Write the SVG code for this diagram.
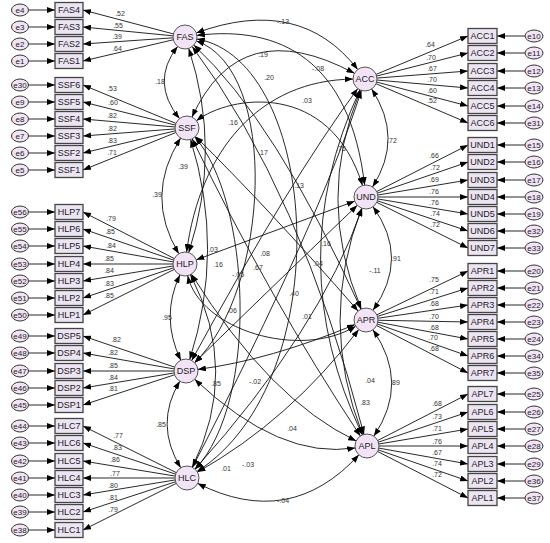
<svg xmlns="http://www.w3.org/2000/svg" width="550" height="543" viewBox="0 0 550 543">
<style>
text{font-family:"Liberation Sans",Arial,sans-serif;fill:#222}
.n{font-size:9px;text-anchor:middle;dominant-baseline:central}
.e{font-size:8px;text-anchor:middle;dominant-baseline:central}
.v{font-size:7px;text-anchor:middle;dominant-baseline:central;fill:#333}
.ind rect{fill:#ECE4F3;stroke:#444;stroke-width:1.3}
.lat circle{fill:#F2E4F6;stroke:#555;stroke-width:1}
.err ellipse{fill:#F2E4F6;stroke:#333;stroke-width:1}
.ld path{fill:none;stroke:#111;stroke-width:0.9;marker-end:url(#ah)}
.cv path{fill:none;stroke:#111;stroke-width:0.9;marker-start:url(#ah);marker-end:url(#ah)}
</style>
<defs>
<marker id="ah" markerUnits="userSpaceOnUse" markerWidth="8" markerHeight="6" refX="8" refY="3" orient="auto-start-reverse" viewBox="0 0 8 6"><path d="M0,0L8,3L0,6z" fill="#000"/></marker>
</defs>
<rect width="550" height="543" fill="#fff"/>
<g id="connectors">
<g class="ld">
<path d="M185,37L83,10"/><path d="M185,37L83,27"/><path d="M185,37L83,44"/><path d="M185,37L83,61"/>
<path d="M187,128L83,85"/><path d="M187,128L83,102"/><path d="M187,128L83,119"/><path d="M187,128L83,136"/><path d="M187,128L83,153"/><path d="M187,128L83,170"/>
<path d="M185,264L83,212"/><path d="M185,264L83,229"/><path d="M185,264L83,246"/><path d="M185,264L83,264"/><path d="M185,264L83,281"/><path d="M185,264L83,298"/><path d="M185,264L83,315"/>
<path d="M186,371L83,336"/><path d="M186,371L83,353"/><path d="M186,371L83,371"/><path d="M186,371L83,388"/><path d="M186,371L83,405"/>
<path d="M187,478L83,426"/><path d="M187,478L83,443"/><path d="M187,478L83,461"/><path d="M187,478L83,478"/><path d="M187,478L83,495"/><path d="M187,478L83,512"/><path d="M187,478L83,530"/>
<path d="M365,79L468,36"/><path d="M365,79L468,53"/><path d="M365,79L468,71"/><path d="M365,79L468,88"/><path d="M365,79L468,106"/><path d="M365,79L468,123"/>
<path d="M366,197L468,145"/><path d="M366,197L468,162"/><path d="M366,197L468,180"/><path d="M366,197L468,197"/><path d="M366,197L468,214"/><path d="M366,197L468,231"/><path d="M366,197L468,248"/>
<path d="M366,320L468,271"/><path d="M366,320L468,288"/><path d="M366,320L468,305"/><path d="M366,320L468,322"/><path d="M366,320L468,339"/><path d="M366,320L468,356"/><path d="M366,320L468,373"/>
<path d="M367,446L468,394"/><path d="M367,446L468,412"/><path d="M367,446L468,429"/><path d="M367,446L468,446"/><path d="M367,446L468,464"/><path d="M367,446L468,481"/><path d="M367,446L468,498"/>
<path d="M28.5,10H55"/><path d="M28.5,27H55"/><path d="M28.5,44H55"/><path d="M28.5,61H55"/>
<path d="M28.5,85H55"/><path d="M28.5,102H55"/><path d="M28.5,119H55"/><path d="M28.5,136H55"/><path d="M28.5,153H55"/><path d="M28.5,170H55"/>
<path d="M28.5,212H55"/><path d="M28.5,229H55"/><path d="M28.5,246H55"/><path d="M28.5,264H55"/><path d="M28.5,281H55"/><path d="M28.5,298H55"/><path d="M28.5,315H55"/>
<path d="M28.5,336H55"/><path d="M28.5,353H55"/><path d="M28.5,371H55"/><path d="M28.5,388H55"/><path d="M28.5,405H55"/>
<path d="M28.5,426H55"/><path d="M28.5,443H55"/><path d="M28.5,461H55"/><path d="M28.5,478H55"/><path d="M28.5,495H55"/><path d="M28.5,512H55"/><path d="M28.5,530H55"/>
<path d="M525,36H497"/><path d="M525,53H497"/><path d="M525,71H497"/><path d="M525,88H497"/><path d="M525,106H497"/><path d="M525,123H497"/>
<path d="M525,145H497"/><path d="M525,162H497"/><path d="M525,180H497"/><path d="M525,197H497"/><path d="M525,214H497"/><path d="M525,231H497"/><path d="M525,248H497"/>
<path d="M525,271H497"/><path d="M525,288H497"/><path d="M525,305H497"/><path d="M525,322H497"/><path d="M525,339H497"/><path d="M525,356H497"/><path d="M525,373H497"/>
<path d="M525,394H497"/><path d="M525,412H497"/><path d="M525,429H497"/><path d="M525,446H497"/><path d="M525,464H497"/><path d="M525,481H497"/><path d="M525,498H497"/>
</g>
<g class="cv">
<path d="M177.6,46.5Q150,82 179.5,118.6"/>
<path d="M180.6,138.1Q144,196 178.8,253.7"/>
<path d="M179.9,274.9Q160,317 180.8,360.2"/>
<path d="M179.8,381.3Q154,424 180.7,467.8"/>
<path d="M371.6,89Q404,138 372.5,186.9"/>
<path d="M373,206.7Q410,258 373,310.2"/>
<path d="M372.9,329.8Q410,383 373.8,436.1"/>
<path d="M196.3,32.9Q300,-5 357.7,69.5"/>
<path d="M197.7,483.4Q290,530 358.9,454.8"/>
<path d="M192,117.1Q240,12 354.4,73.3"/>
<path d="M196.3,259.8L354.7,201.2"/>
<path d="M187.7,275.7C200,330 300,360 355.7,326.2"/>
<path d="M188.7,48.4Q222,150 188.7,252.6"/>
<path d="M196.3,40.9C280,70 270,290 194.6,362.7"/>
<path d="M196.8,39C320,60 340,380 197.1,471.5"/>
<path d="M190.6,139.5Q225,250 189.7,359.6"/>
<path d="M194.9,137C250,200 260,400 195.2,469.2"/>
<path d="M190.5,274.7Q240,371 192.3,467.2"/>
<path d="M360.4,90.1Q315,200 361.3,309"/>
<path d="M361.7,208.2Q318,321 362.6,434.8"/>
<path d="M359.9,89.9Q280,262 362.4,434.9"/>
<path d="M196.9,35.4C280,25 350,60 364.6,185.1"/>
<path d="M193.8,45.1Q275,120 361,309.1"/>
<path d="M192.2,46.6Q300,190 364,434.4"/>
<path d="M196.5,120.7C230,95 330,80 362.5,185.5"/>
<path d="M195.5,136.4Q270,210 358.1,311"/>
<path d="M192.2,138.8Q270,300 360.4,436"/>
<path d="M186.6,252.1C200,150 260,80 353,79.1"/>
<path d="M191.4,274.2Q270,400 356.2,440.9"/>
<path d="M191.7,360.5Q290,180 357.8,88.6"/>
<path d="M194.6,362.6Q300,260 357.3,205.3"/>
<path d="M197.9,369.4Q270,360 354.9,324.6"/>
<path d="M194.7,379.3Q280,460 355.2,447.9"/>
<path d="M192.5,467.3Q320,220 361.4,90.4"/>
<path d="M195,469.1Q320,330 362.1,208.3"/>
<path d="M197.5,472.1Q290,420 358.7,329.6"/>
</g>
<g id="loading-values">
<text class="v" x="120" y="13">.52</text><text class="v" x="118" y="25">.55</text><text class="v" x="117" y="36">.39</text><text class="v" x="117" y="48">.64</text>
<text class="v" x="112" y="88">.53</text><text class="v" x="113" y="102">.60</text><text class="v" x="112" y="115">.82</text><text class="v" x="112" y="128">.82</text><text class="v" x="112" y="140">.83</text><text class="v" x="112" y="152">.71</text>
<text class="v" x="111" y="218">.79</text><text class="v" x="110" y="231">.85</text><text class="v" x="111" y="245">.84</text><text class="v" x="109" y="258">.85</text><text class="v" x="109" y="270">.84</text><text class="v" x="109" y="283">.83</text><text class="v" x="109" y="295">.85</text>
<text class="v" x="116" y="339">.82</text><text class="v" x="113" y="352">.82</text><text class="v" x="113" y="365">.85</text><text class="v" x="113" y="377">.84</text><text class="v" x="113" y="388">.81</text>
<text class="v" x="118" y="435">.77</text><text class="v" x="117" y="447">.83</text><text class="v" x="115" y="459">.86</text><text class="v" x="115" y="473">.77</text><text class="v" x="113" y="485">.80</text><text class="v" x="113" y="497">.81</text><text class="v" x="113" y="509">.79</text>
<text class="v" x="430" y="44">.64</text><text class="v" x="431" y="57">.70</text><text class="v" x="432" y="68">.67</text><text class="v" x="432" y="79">.70</text><text class="v" x="432" y="90">.60</text><text class="v" x="432" y="100">.52</text>
<text class="v" x="434" y="155">.66</text><text class="v" x="435" y="167">.72</text><text class="v" x="434" y="179">.69</text><text class="v" x="434" y="191">.76</text><text class="v" x="434" y="202">.76</text><text class="v" x="435" y="213">.74</text><text class="v" x="435" y="224">.72</text>
<text class="v" x="434" y="279">.75</text><text class="v" x="434" y="291">.71</text><text class="v" x="434" y="303">.68</text><text class="v" x="434" y="316">.70</text><text class="v" x="434" y="327">.68</text><text class="v" x="433" y="337">.70</text><text class="v" x="434" y="348">.68</text>
<text class="v" x="437" y="403">.68</text><text class="v" x="437" y="416">.73</text><text class="v" x="437" y="428">.71</text><text class="v" x="437" y="441">.76</text><text class="v" x="437" y="452">.67</text><text class="v" x="437" y="463">.74</text><text class="v" x="437" y="474">.72</text>
</g>
<g id="correlation-values">
<text class="v" x="160" y="81">.18</text><text class="v" x="283" y="21">-.13</text><text class="v" x="263" y="54">.19</text><text class="v" x="318" y="68">-.08</text>
<text class="v" x="269" y="77">.20</text><text class="v" x="307" y="100">.03</text><text class="v" x="233" y="122">.16</text><text class="v" x="263" y="152">.17</text>
<text class="v" x="341" y="148">.75</text><text class="v" x="299" y="185">.13</text><text class="v" x="183" y="166">.39</text><text class="v" x="157" y="194">.39</text>
<text class="v" x="213" y="249">.03</text><text class="v" x="218" y="264">.16</text><text class="v" x="238" y="274">-.05</text><text class="v" x="258" y="267">.67</text>
<text class="v" x="265" y="253">.08</text><text class="v" x="326" y="243">.16</text><text class="v" x="318" y="263">.04</text><text class="v" x="392" y="140">.72</text>
<text class="v" x="396" y="258">.91</text><text class="v" x="375" y="270">-.11</text><text class="v" x="167" y="317">.95</text><text class="v" x="232" y="310">.06</text>
<text class="v" x="294" y="293">.40</text><text class="v" x="307" y="316">.01</text><text class="v" x="216" y="383">.85</text><text class="v" x="255" y="381">-.02</text>
<text class="v" x="161" y="424">.85</text><text class="v" x="292" y="428">.04</text><text class="v" x="226" y="468">.01</text><text class="v" x="248" y="464">-.03</text>
<text class="v" x="283" y="500">-.04</text><text class="v" x="370" y="380">.04</text><text class="v" x="395" y="382">.89</text><text class="v" x="365" y="402">.83</text>
</g>
</g>
<g class="lat">
<g id="FAS"><circle cx="185" cy="37" r="12"/><text class="n" x="185" y="37">FAS</text></g>
<g id="SSF"><circle cx="187" cy="128" r="12"/><text class="n" x="187" y="128">SSF</text></g>
<g id="HLP"><circle cx="185" cy="264" r="12"/><text class="n" x="185" y="264">HLP</text></g>
<g id="DSP"><circle cx="186" cy="371" r="12"/><text class="n" x="186" y="371">DSP</text></g>
<g id="HLC"><circle cx="187" cy="478" r="12"/><text class="n" x="187" y="478">HLC</text></g>
<g id="ACC"><circle cx="365" cy="79" r="12"/><text class="n" x="365" y="79">ACC</text></g>
<g id="UND"><circle cx="366" cy="197" r="12"/><text class="n" x="366" y="197">UND</text></g>
<g id="APR"><circle cx="366" cy="320" r="12"/><text class="n" x="366" y="320">APR</text></g>
<g id="APL"><circle cx="367" cy="446" r="12"/><text class="n" x="367" y="446">APL</text></g>
</g>
<g class="ind">
<g id="FAS4"><rect x="55" y="2.5" width="28" height="15"/><text class="n" x="69" y="10">FAS4</text></g>
<g id="FAS3"><rect x="55" y="19.5" width="28" height="15"/><text class="n" x="69" y="27">FAS3</text></g>
<g id="FAS2"><rect x="55" y="36.5" width="28" height="15"/><text class="n" x="69" y="44">FAS2</text></g>
<g id="FAS1"><rect x="55" y="53.5" width="28" height="15"/><text class="n" x="69" y="61">FAS1</text></g>
<g id="SSF6"><rect x="55" y="77.5" width="28" height="15"/><text class="n" x="69" y="85">SSF6</text></g>
<g id="SSF5"><rect x="55" y="94.5" width="28" height="15"/><text class="n" x="69" y="102">SSF5</text></g>
<g id="SSF4"><rect x="55" y="111.5" width="28" height="15"/><text class="n" x="69" y="119">SSF4</text></g>
<g id="SSF3"><rect x="55" y="128.5" width="28" height="15"/><text class="n" x="69" y="136">SSF3</text></g>
<g id="SSF2"><rect x="55" y="145.5" width="28" height="15"/><text class="n" x="69" y="153">SSF2</text></g>
<g id="SSF1"><rect x="55" y="162.5" width="28" height="15"/><text class="n" x="69" y="170">SSF1</text></g>
<g id="HLP7"><rect x="55" y="204.5" width="28" height="15"/><text class="n" x="69" y="212">HLP7</text></g>
<g id="HLP6"><rect x="55" y="221.5" width="28" height="15"/><text class="n" x="69" y="229">HLP6</text></g>
<g id="HLP5"><rect x="55" y="238.5" width="28" height="15"/><text class="n" x="69" y="246">HLP5</text></g>
<g id="HLP4"><rect x="55" y="256.5" width="28" height="15"/><text class="n" x="69" y="264">HLP4</text></g>
<g id="HLP3"><rect x="55" y="273.5" width="28" height="15"/><text class="n" x="69" y="281">HLP3</text></g>
<g id="HLP2"><rect x="55" y="290.5" width="28" height="15"/><text class="n" x="69" y="298">HLP2</text></g>
<g id="HLP1"><rect x="55" y="307.5" width="28" height="15"/><text class="n" x="69" y="315">HLP1</text></g>
<g id="DSP5"><rect x="55" y="328.5" width="28" height="15"/><text class="n" x="69" y="336">DSP5</text></g>
<g id="DSP4"><rect x="55" y="345.5" width="28" height="15"/><text class="n" x="69" y="353">DSP4</text></g>
<g id="DSP3"><rect x="55" y="363.5" width="28" height="15"/><text class="n" x="69" y="371">DSP3</text></g>
<g id="DSP2"><rect x="55" y="380.5" width="28" height="15"/><text class="n" x="69" y="388">DSP2</text></g>
<g id="DSP1"><rect x="55" y="397.5" width="28" height="15"/><text class="n" x="69" y="405">DSP1</text></g>
<g id="HLC7"><rect x="55" y="418.5" width="28" height="15"/><text class="n" x="69" y="426">HLC7</text></g>
<g id="HLC6"><rect x="55" y="435.5" width="28" height="15"/><text class="n" x="69" y="443">HLC6</text></g>
<g id="HLC5"><rect x="55" y="453.5" width="28" height="15"/><text class="n" x="69" y="461">HLC5</text></g>
<g id="HLC4"><rect x="55" y="470.5" width="28" height="15"/><text class="n" x="69" y="478">HLC4</text></g>
<g id="HLC3"><rect x="55" y="487.5" width="28" height="15"/><text class="n" x="69" y="495">HLC3</text></g>
<g id="HLC2"><rect x="55" y="504.5" width="28" height="15"/><text class="n" x="69" y="512">HLC2</text></g>
<g id="HLC1"><rect x="55" y="522.5" width="28" height="15"/><text class="n" x="69" y="530">HLC1</text></g>
<g id="ACC1"><rect x="468" y="28.5" width="29" height="15"/><text class="n" x="482.5" y="36">ACC1</text></g>
<g id="ACC2"><rect x="468" y="45.5" width="29" height="15"/><text class="n" x="482.5" y="53">ACC2</text></g>
<g id="ACC3"><rect x="468" y="63.5" width="29" height="15"/><text class="n" x="482.5" y="71">ACC3</text></g>
<g id="ACC4"><rect x="468" y="80.5" width="29" height="15"/><text class="n" x="482.5" y="88">ACC4</text></g>
<g id="ACC5"><rect x="468" y="98.5" width="29" height="15"/><text class="n" x="482.5" y="106">ACC5</text></g>
<g id="ACC6"><rect x="468" y="115.5" width="29" height="15"/><text class="n" x="482.5" y="123">ACC6</text></g>
<g id="UND1"><rect x="468" y="137.5" width="29" height="15"/><text class="n" x="482.5" y="145">UND1</text></g>
<g id="UND2"><rect x="468" y="154.5" width="29" height="15"/><text class="n" x="482.5" y="162">UND2</text></g>
<g id="UND3"><rect x="468" y="172.5" width="29" height="15"/><text class="n" x="482.5" y="180">UND3</text></g>
<g id="UND4"><rect x="468" y="189.5" width="29" height="15"/><text class="n" x="482.5" y="197">UND4</text></g>
<g id="UND5"><rect x="468" y="206.5" width="29" height="15"/><text class="n" x="482.5" y="214">UND5</text></g>
<g id="UND6"><rect x="468" y="223.5" width="29" height="15"/><text class="n" x="482.5" y="231">UND6</text></g>
<g id="UND7"><rect x="468" y="240.5" width="29" height="15"/><text class="n" x="482.5" y="248">UND7</text></g>
<g id="APR1"><rect x="468" y="263.5" width="29" height="15"/><text class="n" x="482.5" y="271">APR1</text></g>
<g id="APR2"><rect x="468" y="280.5" width="29" height="15"/><text class="n" x="482.5" y="288">APR2</text></g>
<g id="APR3"><rect x="468" y="297.5" width="29" height="15"/><text class="n" x="482.5" y="305">APR3</text></g>
<g id="APR4"><rect x="468" y="314.5" width="29" height="15"/><text class="n" x="482.5" y="322">APR4</text></g>
<g id="APR5"><rect x="468" y="331.5" width="29" height="15"/><text class="n" x="482.5" y="339">APR5</text></g>
<g id="APR6"><rect x="468" y="348.5" width="29" height="15"/><text class="n" x="482.5" y="356">APR6</text></g>
<g id="APR7"><rect x="468" y="365.5" width="29" height="15"/><text class="n" x="482.5" y="373">APR7</text></g>
<g id="APL7"><rect x="468" y="386.5" width="29" height="15"/><text class="n" x="482.5" y="394">APL7</text></g>
<g id="APL6"><rect x="468" y="404.5" width="29" height="15"/><text class="n" x="482.5" y="412">APL6</text></g>
<g id="APL5"><rect x="468" y="421.5" width="29" height="15"/><text class="n" x="482.5" y="429">APL5</text></g>
<g id="APL4"><rect x="468" y="438.5" width="29" height="15"/><text class="n" x="482.5" y="446">APL4</text></g>
<g id="APL3"><rect x="468" y="456.5" width="29" height="15"/><text class="n" x="482.5" y="464">APL3</text></g>
<g id="APL2"><rect x="468" y="473.5" width="29" height="15"/><text class="n" x="482.5" y="481">APL2</text></g>
<g id="APL1"><rect x="468" y="490.5" width="29" height="15"/><text class="n" x="482.5" y="498">APL1</text></g>
</g>
<g class="err">
<g id="e4"><ellipse cx="20" cy="10" rx="8.5" ry="6"/><text class="e" x="20" y="10">e4</text></g>
<g id="e3"><ellipse cx="20" cy="27" rx="8.5" ry="6"/><text class="e" x="20" y="27">e3</text></g>
<g id="e2"><ellipse cx="20" cy="44" rx="8.5" ry="6"/><text class="e" x="20" y="44">e2</text></g>
<g id="e1"><ellipse cx="20" cy="61" rx="8.5" ry="6"/><text class="e" x="20" y="61">e1</text></g>
<g id="e30"><ellipse cx="20" cy="85" rx="8.5" ry="6"/><text class="e" x="20" y="85">e30</text></g>
<g id="e9"><ellipse cx="20" cy="102" rx="8.5" ry="6"/><text class="e" x="20" y="102">e9</text></g>
<g id="e8"><ellipse cx="20" cy="119" rx="8.5" ry="6"/><text class="e" x="20" y="119">e8</text></g>
<g id="e7"><ellipse cx="20" cy="136" rx="8.5" ry="6"/><text class="e" x="20" y="136">e7</text></g>
<g id="e6"><ellipse cx="20" cy="153" rx="8.5" ry="6"/><text class="e" x="20" y="153">e6</text></g>
<g id="e5"><ellipse cx="20" cy="170" rx="8.5" ry="6"/><text class="e" x="20" y="170">e5</text></g>
<g id="e56"><ellipse cx="20" cy="212" rx="8.5" ry="6"/><text class="e" x="20" y="212">e56</text></g>
<g id="e55"><ellipse cx="20" cy="229" rx="8.5" ry="6"/><text class="e" x="20" y="229">e55</text></g>
<g id="e54"><ellipse cx="20" cy="246" rx="8.5" ry="6"/><text class="e" x="20" y="246">e54</text></g>
<g id="e53"><ellipse cx="20" cy="264" rx="8.5" ry="6"/><text class="e" x="20" y="264">e53</text></g>
<g id="e52"><ellipse cx="20" cy="281" rx="8.5" ry="6"/><text class="e" x="20" y="281">e52</text></g>
<g id="e51"><ellipse cx="20" cy="298" rx="8.5" ry="6"/><text class="e" x="20" y="298">e51</text></g>
<g id="e50"><ellipse cx="20" cy="315" rx="8.5" ry="6"/><text class="e" x="20" y="315">e50</text></g>
<g id="e49"><ellipse cx="20" cy="336" rx="8.5" ry="6"/><text class="e" x="20" y="336">e49</text></g>
<g id="e48"><ellipse cx="20" cy="353" rx="8.5" ry="6"/><text class="e" x="20" y="353">e48</text></g>
<g id="e47"><ellipse cx="20" cy="371" rx="8.5" ry="6"/><text class="e" x="20" y="371">e47</text></g>
<g id="e46"><ellipse cx="20" cy="388" rx="8.5" ry="6"/><text class="e" x="20" y="388">e46</text></g>
<g id="e45"><ellipse cx="20" cy="405" rx="8.5" ry="6"/><text class="e" x="20" y="405">e45</text></g>
<g id="e44"><ellipse cx="20" cy="426" rx="8.5" ry="6"/><text class="e" x="20" y="426">e44</text></g>
<g id="e43"><ellipse cx="20" cy="443" rx="8.5" ry="6"/><text class="e" x="20" y="443">e43</text></g>
<g id="e42"><ellipse cx="20" cy="461" rx="8.5" ry="6"/><text class="e" x="20" y="461">e42</text></g>
<g id="e41"><ellipse cx="20" cy="478" rx="8.5" ry="6"/><text class="e" x="20" y="478">e41</text></g>
<g id="e40"><ellipse cx="20" cy="495" rx="8.5" ry="6"/><text class="e" x="20" y="495">e40</text></g>
<g id="e39"><ellipse cx="20" cy="512" rx="8.5" ry="6"/><text class="e" x="20" y="512">e39</text></g>
<g id="e38"><ellipse cx="20" cy="530" rx="8.5" ry="6"/><text class="e" x="20" y="530">e38</text></g>
<g id="e10"><ellipse cx="534" cy="36" rx="9" ry="6"/><text class="e" x="534" y="36">e10</text></g>
<g id="e11"><ellipse cx="534" cy="53" rx="9" ry="6"/><text class="e" x="534" y="53">e11</text></g>
<g id="e12"><ellipse cx="534" cy="71" rx="9" ry="6"/><text class="e" x="534" y="71">e12</text></g>
<g id="e13"><ellipse cx="534" cy="88" rx="9" ry="6"/><text class="e" x="534" y="88">e13</text></g>
<g id="e14"><ellipse cx="534" cy="106" rx="9" ry="6"/><text class="e" x="534" y="106">e14</text></g>
<g id="e31"><ellipse cx="534" cy="123" rx="9" ry="6"/><text class="e" x="534" y="123">e31</text></g>
<g id="e15"><ellipse cx="534" cy="145" rx="9" ry="6"/><text class="e" x="534" y="145">e15</text></g>
<g id="e16"><ellipse cx="534" cy="162" rx="9" ry="6"/><text class="e" x="534" y="162">e16</text></g>
<g id="e17"><ellipse cx="534" cy="180" rx="9" ry="6"/><text class="e" x="534" y="180">e17</text></g>
<g id="e18"><ellipse cx="534" cy="197" rx="9" ry="6"/><text class="e" x="534" y="197">e18</text></g>
<g id="e19"><ellipse cx="534" cy="214" rx="9" ry="6"/><text class="e" x="534" y="214">e19</text></g>
<g id="e32"><ellipse cx="534" cy="231" rx="9" ry="6"/><text class="e" x="534" y="231">e32</text></g>
<g id="e33"><ellipse cx="534" cy="248" rx="9" ry="6"/><text class="e" x="534" y="248">e33</text></g>
<g id="e20"><ellipse cx="534" cy="271" rx="9" ry="6"/><text class="e" x="534" y="271">e20</text></g>
<g id="e21"><ellipse cx="534" cy="288" rx="9" ry="6"/><text class="e" x="534" y="288">e21</text></g>
<g id="e22"><ellipse cx="534" cy="305" rx="9" ry="6"/><text class="e" x="534" y="305">e22</text></g>
<g id="e23"><ellipse cx="534" cy="322" rx="9" ry="6"/><text class="e" x="534" y="322">e23</text></g>
<g id="e24"><ellipse cx="534" cy="339" rx="9" ry="6"/><text class="e" x="534" y="339">e24</text></g>
<g id="e34"><ellipse cx="534" cy="356" rx="9" ry="6"/><text class="e" x="534" y="356">e34</text></g>
<g id="e35"><ellipse cx="534" cy="373" rx="9" ry="6"/><text class="e" x="534" y="373">e35</text></g>
<g id="e25"><ellipse cx="534" cy="394" rx="9" ry="6"/><text class="e" x="534" y="394">e25</text></g>
<g id="e26"><ellipse cx="534" cy="412" rx="9" ry="6"/><text class="e" x="534" y="412">e26</text></g>
<g id="e27"><ellipse cx="534" cy="429" rx="9" ry="6"/><text class="e" x="534" y="429">e27</text></g>
<g id="e28"><ellipse cx="534" cy="446" rx="9" ry="6"/><text class="e" x="534" y="446">e28</text></g>
<g id="e29"><ellipse cx="534" cy="464" rx="9" ry="6"/><text class="e" x="534" y="464">e29</text></g>
<g id="e36"><ellipse cx="534" cy="481" rx="9" ry="6"/><text class="e" x="534" y="481">e36</text></g>
<g id="e37"><ellipse cx="534" cy="498" rx="9" ry="6"/><text class="e" x="534" y="498">e37</text></g>
</g>
</svg>
